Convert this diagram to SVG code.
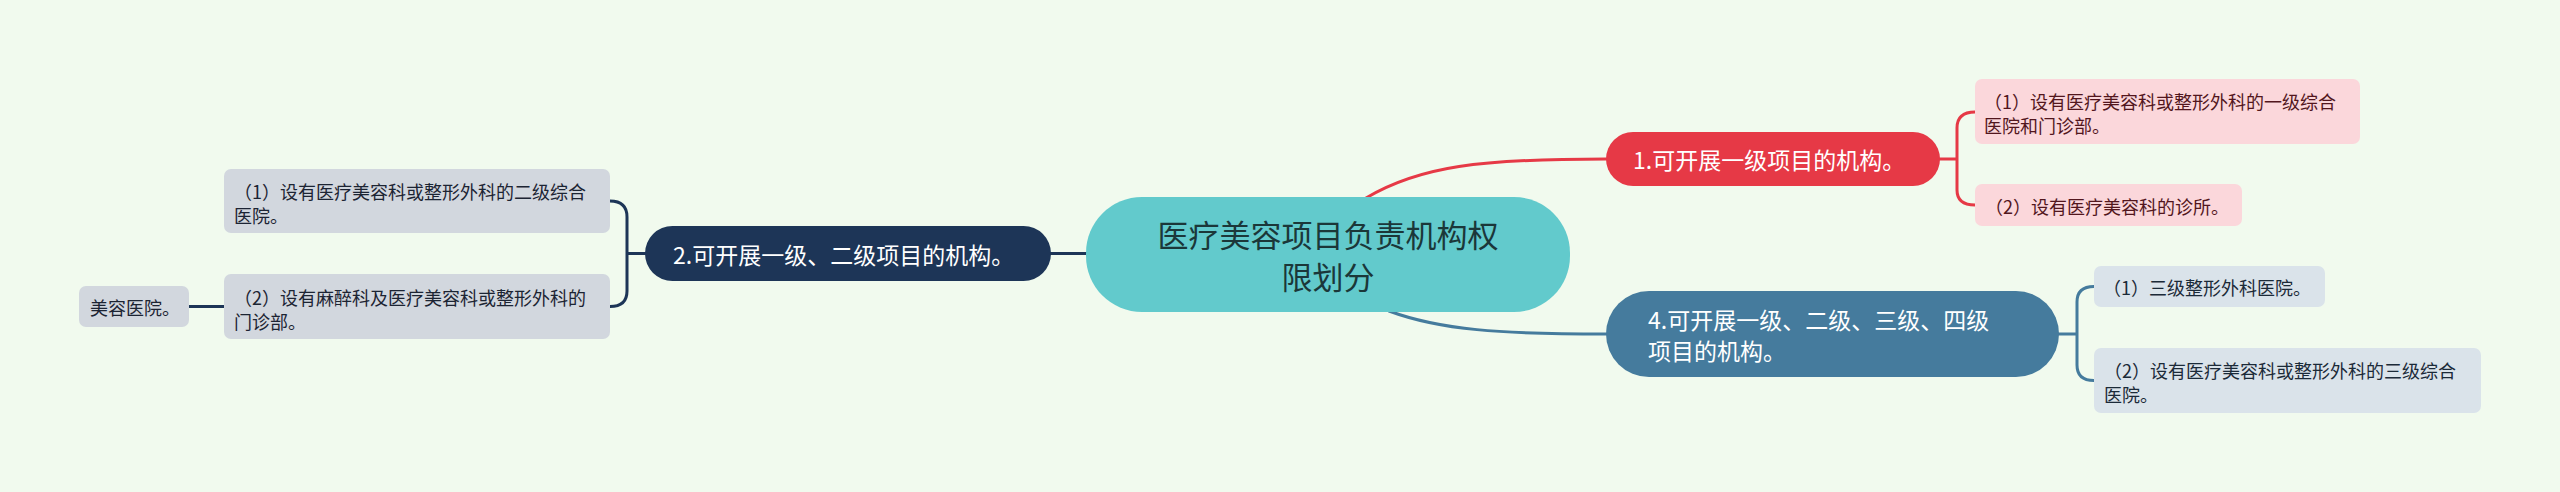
<svg xmlns="http://www.w3.org/2000/svg" width="2560" height="492" viewBox="0 0 2560 492">
<style>
text{font-family:"Noto Sans CJK SC","Noto Sans",sans-serif;dominant-baseline:central}
.c{fill:none;stroke-width:3;stroke-linecap:round}
.t1{font-size:31px;fill:#1b3739;text-anchor:middle}
.t2{font-size:23px;fill:#ffffff}
.t3{font-size:18px}
</style>
<rect x="0" y="0" width="2560" height="492" fill="#f1faee"/>
<g id="connectors">
<path class="c" stroke="#e63946" d="M1366,198 C1420,166 1480,159 1606,159"/>
<path class="c" stroke="#457b9d" d="M1389,311 C1440,330 1500,334 1606,334"/>
<path class="c" stroke="#1d3557" d="M1087,253.5 L1050,253.5"/>
<path class="c" stroke="#e63946" d="M1939,159 L1957,159 M1957,159 L1957,128 Q1957,112 1975,112 M1957,159 L1957,190 Q1957,205 1975,205"/>
<path class="c" stroke="#457b9d" d="M2058,334 L2077,334 M2077,334 L2077,302 Q2077,286.5 2094,286.5 M2077,334 L2077,365 Q2077,380.5 2094,380.5"/>
<path class="c" stroke="#1d3557" d="M646,253.5 L627,253.5 M627,253.5 L627,217 Q627,201 610,201 M627,253.5 L627,291 Q627,306.5 610,306.5"/>
<path class="c" stroke="#1d3557" d="M224,306.5 L189,306.5"/>
</g>
<g id="center">
<rect x="1086" y="197" width="484" height="115" rx="56" fill="#62cacc"/>
<text class="t1" x="1328" y="233">医疗美容项目负责机构权</text>
<text class="t1" x="1328" y="275">限划分</text>
</g>
<g id="node1">
<rect x="1606" y="132" width="334" height="54" rx="27" fill="#e63946"/>
<text class="t2" x="1633" y="159">1.可开展一级项目的机构。</text>
</g>
<g id="node1a">
<rect x="1975" y="79" width="385" height="65" rx="7" fill="#fbd7db"/>
<text class="t3" fill="#52161d" x="1984" y="100.5">（1）设有医疗美容科或整形外科的一级综合</text>
<text class="t3" fill="#52161d" x="1984" y="124.5">医院和门诊部。</text>
</g>
<g id="node1b">
<rect x="1975" y="184" width="267" height="42" rx="7" fill="#fbd7db"/>
<text class="t3" fill="#52161d" x="1985" y="205.5">（2）设有医疗美容科的诊所。</text>
</g>
<g id="node4">
<rect x="1606" y="291" width="453" height="86" rx="43" fill="#457b9d"/>
<text class="t2" x="1648" y="318.5">4.可开展一级、二级、三级、四级</text>
<text class="t2" x="1648" y="349.5">项目的机构。</text>
</g>
<g id="node4a">
<rect x="2094" y="266" width="231" height="41" rx="7" fill="#dae3ea"/>
<text class="t3" fill="#1b2a38" x="2103" y="287">（1）三级整形外科医院。</text>
</g>
<g id="node4b">
<rect x="2094" y="348" width="387" height="65" rx="7" fill="#dae3ea"/>
<text class="t3" fill="#1b2a38" x="2104" y="369.5">（2）设有医疗美容科或整形外科的三级综合</text>
<text class="t3" fill="#1b2a38" x="2104" y="393.5">医院。</text>
</g>
<g id="node2">
<rect x="645" y="226" width="406" height="55" rx="27.5" fill="#1d3557"/>
<text class="t2" x="673" y="253.5">2.可开展一级、二级项目的机构。</text>
</g>
<g id="node2a">
<rect x="224" y="169" width="386" height="64" rx="7" fill="#d2d7de"/>
<text class="t3" fill="#1c2433" x="234" y="191">（1）设有医疗美容科或整形外科的二级综合</text>
<text class="t3" fill="#1c2433" x="234" y="215">医院。</text>
</g>
<g id="node2b">
<rect x="224" y="274" width="386" height="65" rx="7" fill="#d2d7de"/>
<text class="t3" fill="#1c2433" x="234" y="296.5">（2）设有麻醉科及医疗美容科或整形外科的</text>
<text class="t3" fill="#1c2433" x="234" y="320.5">门诊部。</text>
</g>
<g id="node2b1">
<rect x="79" y="286" width="110" height="41" rx="7" fill="#d2d7de"/>
<text class="t3" fill="#1c2433" x="90" y="307">美容医院。</text>
</g>
</svg>
